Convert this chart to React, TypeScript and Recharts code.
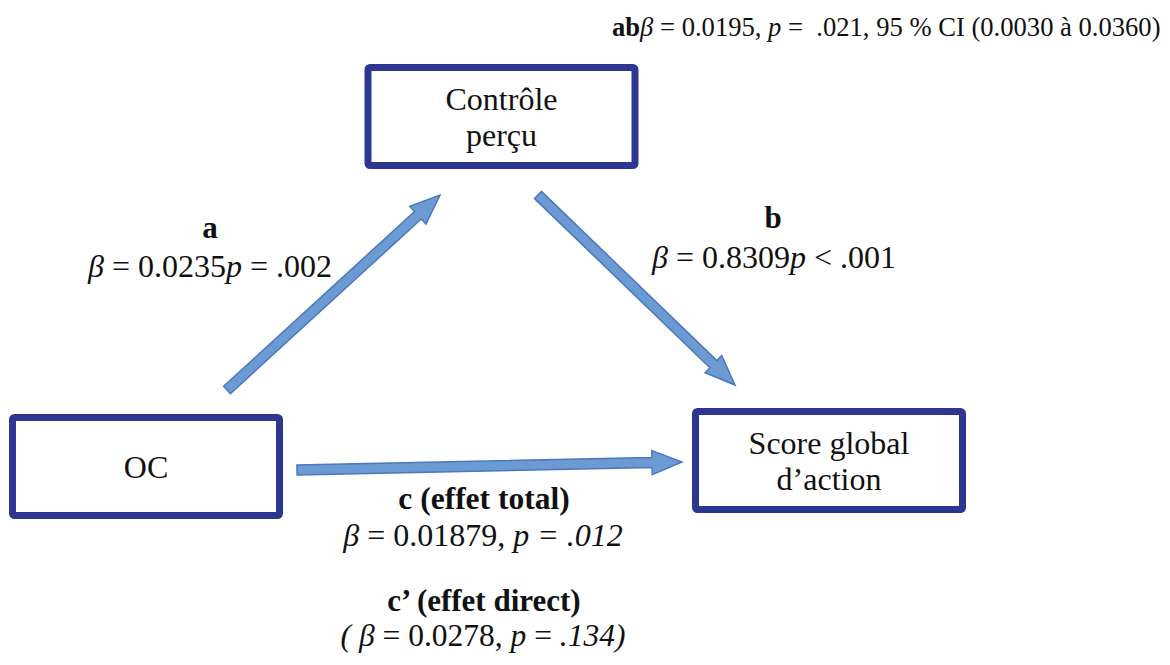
import React from "react";
import { ScatterChart, Scatter, XAxis, YAxis, ReferenceLine } from "recharts";

type Seg = { t: string; b?: boolean; i?: boolean };

// Diagram nodes (variables): centre position on the canvas and their label lines
const nodeNames = ["OC", "Contrôle perçu", "Score global d’action"];
const nodeLines = [["OC"], ["Contrôle", "perçu"], ["Score global", "d’action"]];
const nodeX = [146, 501.5, 829];
const nodeY = [466.5, 116.5, 460.5];

// Paths (arrows): tail and tip
const edgeNames = ["a", "b", "c"];
const edgeFrom = [
  { x: 227, y: 390 },
  { x: 538, y: 195 },
  { x: 297, y: 470 },
];
const edgeTo = [
  { x: 440, y: 195 },
  { x: 735, y: 385 },
  { x: 682, y: 462 },
];

// Coefficient labels
const labelTexts: Seg[][] = [
  [{ t: "ab", b: true }, { t: "β", i: true }, { t: " = 0.0195, " }, { t: "p", i: true }, { t: " =  .021, 95 % CI (0.0030 à 0.0360)" }],
  [{ t: "a", b: true }],
  [{ t: "β", i: true }, { t: " = 0.0235" }, { t: "p", i: true }, { t: " = .002" }],
  [{ t: "b", b: true }],
  [{ t: "β", i: true }, { t: " = 0.8309" }, { t: "p", i: true }, { t: " < .001" }],
  [{ t: "c (effet total)", b: true }],
  [{ t: "β", i: true }, { t: " = 0.01879, " }, { t: "p", i: true }, { t: " = .012", i: true }],
  [{ t: "c’ (effet direct)", b: true }],
  [{ t: "( β", i: true }, { t: " = 0.0278, " }, { t: "p", i: true }, { t: " = " }, { t: ".134)", i: true }],
];
const labelX = [612, 210, 88, 773, 652, 484, 483, 484, 483];
const labelY = [36, 238, 277, 228, 268, 509, 546, 611, 646];
const labelAnchor = ["start", "middle", "start", "middle", "start", "middle", "middle", "middle", "middle"];
const labelSize = [26.6, 31, 32, 31, 32, 31.5, 32, 31, 31.5];

const nodes = nodeNames.map((n, k) => ({ name: n, x: nodeX[k], y: nodeY[k], lines: nodeLines[k] }));
const labels = labelTexts.map((segs, k) => ({
  x: labelX[k],
  y: labelY[k],
  segs,
  anchor: labelAnchor[k],
  size: labelSize[k],
}));

const W = 1170;
const H = 665;
const BOX_W = 267;
const BOX_H = 98;
const BOX_COLOR = "#2E3790";
const ARROW_FILL = "#6C9BD4";
const ARROW_STROKE = "#4A78BD";
const FONT = "'Liberation Serif', 'Times New Roman', serif";

const BoxShape = (props: any) => {
  const { cx, cy, payload } = props;
  const lines: string[] = payload.lines;
  const lh = 36;
  const first = cy + 11 - ((lines.length - 1) * lh) / 2;
  return (
    <g>
      <rect
        x={cx - BOX_W / 2}
        y={cy - BOX_H / 2}
        width={BOX_W}
        height={BOX_H}
        rx={2}
        fill="#ffffff"
        stroke={BOX_COLOR}
        strokeWidth={7}
      />
      {lines.map((l, k) => (
        <text key={k} x={cx} y={first + k * lh} textAnchor="middle" fontFamily={FONT} fontSize={32} fill="#111">
          {l}
        </text>
      ))}
    </g>
  );
};

const LabelShape = (props: any) => {
  const { cx, cy, payload } = props;
  return (
    <text
      x={cx}
      y={cy}
      textAnchor={payload.anchor}
      fontFamily={FONT}
      fontSize={payload.size}
      fill="#111"
      style={{ whiteSpace: "pre" }}
    >
      {payload.segs.map((s: Seg, k: number) => (
        <tspan key={k} fontWeight={s.b ? "bold" : "normal"} fontStyle={s.i ? "italic" : "normal"}>
          {s.t}
        </tspan>
      ))}
    </text>
  );
};

const ArrowShape = (props: any) => {
  const { x1, y1, x2, y2 } = props;
  if ([x1, y1, x2, y2].some((v) => typeof v !== "number" || isNaN(v))) return <g />;
  const dx = x2 - x1;
  const dy = y2 - y1;
  const len = Math.sqrt(dx * dx + dy * dy);
  const ux = dx / len;
  const uy = dy / len;
  const nx = -uy;
  const ny = ux;
  const sw = 5;
  const hw = 12;
  const hl = 30;
  const bx = x2 - ux * hl;
  const by = y2 - uy * hl;
  const pts = [
    [x1 + nx * sw, y1 + ny * sw],
    [bx + nx * sw, by + ny * sw],
    [bx + nx * hw, by + ny * hw],
    [x2, y2],
    [bx - nx * hw, by - ny * hw],
    [bx - nx * sw, by - ny * sw],
    [x1 - nx * sw, y1 - ny * sw],
  ]
    .map((p) => `${p[0]},${p[1]}`)
    .join(" ");
  return <polygon points={pts} fill={ARROW_FILL} stroke={ARROW_STROKE} strokeWidth={1.5} strokeLinejoin="miter" />;
};

export default function App() {
  return (
    <div style={{ width: W, height: H, background: "#fff" }}>
      <style>{`body{margin:0;background:#fff}`}</style>
      <ScatterChart width={W} height={H} margin={{ top: 0, right: 0, bottom: 0, left: 0 }}>
        <XAxis type="number" dataKey="x" domain={[0, W]} allowDataOverflow hide />
        <YAxis type="number" dataKey="y" domain={[0, H]} allowDataOverflow reversed hide />
        {edgeNames.map((n, k) => (
          <ReferenceLine
            key={n}
            segment={[edgeFrom[k], edgeTo[k]]}
            shape={ArrowShape}
            ifOverflow="visible"
          />
        ))}
        <Scatter name="nodes" data={nodes} shape={BoxShape} isAnimationActive={false} />
        <Scatter name="labels" data={labels} shape={LabelShape} isAnimationActive={false} />
      </ScatterChart>
    </div>
  );
}
